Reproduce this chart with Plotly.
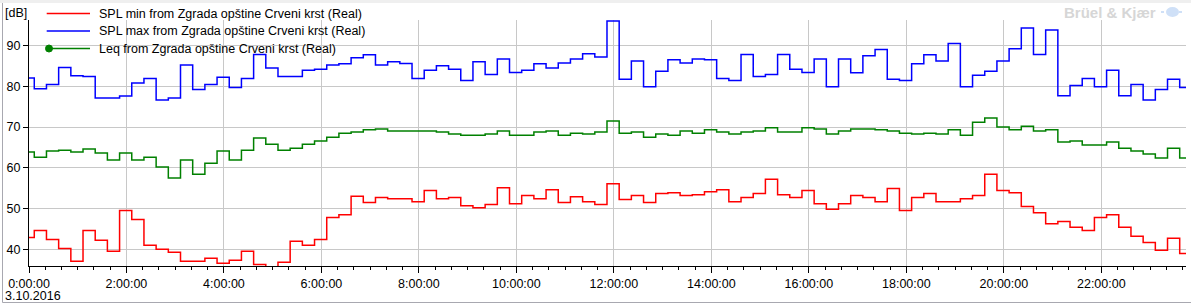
import pandas as pd
import plotly.graph_objects as go

# ---------------- data (15-minute intervals) ----------------
interval_start = "2016-10-02 23:51:30"
n_intervals = 96

spl_min = [42.9, 44.6, 42.4, 40.2, 37.1, 44.6, 42.2, 39.5, 49.5, 47.3, 41.0, 40.0,
           39.3, 37.1, 37.1, 37.8, 36.6, 37.3, 39.5, 36.3, 35.0, 36.8, 42.0, 41.0,
           42.4, 47.8, 48.5, 53.0, 51.5, 52.7, 52.4, 52.4, 51.7, 54.4, 52.4, 52.7,
           50.7, 50.2, 51.0, 55.1, 51.2, 53.2, 52.4, 54.6, 51.5, 52.9, 51.7, 51.0,
           56.1, 52.2, 53.2, 51.5, 53.7, 53.9, 53.2, 53.4, 54.1, 54.6, 51.7, 52.7,
           53.7, 57.2, 53.4, 52.7, 54.4, 51.2, 49.8, 51.2, 53.2, 52.7, 51.7, 54.9,
           49.5, 52.7, 53.7, 51.7, 51.7, 52.4, 53.2, 58.4, 54.4, 53.9, 50.5, 49.0,
           46.3, 46.8, 45.4, 44.6, 47.8, 48.5, 45.4, 43.2, 41.7, 39.8, 42.7, 39.0]

spl_max = [82.0, 79.4, 80.4, 84.6, 82.6, 82.4, 77.1, 77.1, 77.6, 80.8, 81.9, 76.6,
           77.1, 85.2, 79.2, 80.4, 82.2, 79.7, 81.9, 87.8, 84.5, 82.4, 82.4, 83.9,
           84.2, 85.2, 85.5, 87.0, 87.7, 85.2, 86.0, 85.6, 81.9, 83.9, 85.0, 84.2,
           81.4, 86.0, 82.9, 86.7, 83.4, 83.9, 85.5, 84.5, 85.7, 86.7, 88.0, 87.2,
           96.0, 81.7, 86.2, 79.9, 83.7, 86.5, 85.7, 86.7, 86.5, 81.9, 81.4, 87.8,
           82.4, 82.9, 87.8, 84.2, 83.4, 86.7, 79.9, 86.7, 83.3, 87.5, 89.0, 81.7,
           81.4, 85.5, 87.7, 86.2, 90.5, 79.9, 82.7, 83.7, 86.2, 89.2, 94.3, 87.8,
           93.8, 77.7, 80.2, 81.9, 79.9, 83.9, 77.7, 80.4, 76.6, 79.2, 81.7, 79.7]

leq = [63.9, 62.6, 64.1, 64.3, 63.9, 64.6, 63.6, 61.9, 63.6, 61.9, 62.6, 60.2,
       57.5, 61.9, 58.4, 61.1, 64.1, 61.9, 64.3, 67.3, 65.8, 64.3, 64.8, 65.8,
       66.6, 67.5, 68.5, 68.8, 69.3, 69.5, 69.0, 69.0, 69.0, 69.0, 68.8, 68.3,
       68.0, 68.0, 68.3, 69.0, 68.0, 68.0, 68.8, 69.0, 68.0, 68.5, 68.3, 68.8,
       71.5, 68.5, 68.8, 67.5, 68.3, 68.0, 69.0, 68.5, 69.3, 68.8, 68.3, 68.8,
       69.0, 69.8, 68.8, 68.8, 69.8, 69.5, 68.3, 69.0, 69.5, 69.5, 69.3, 69.0,
       68.5, 68.3, 68.5, 68.3, 69.3, 68.0, 71.2, 72.2, 70.0, 69.3, 70.2, 69.0,
       69.3, 66.3, 66.6, 65.6, 65.6, 66.3, 64.8, 64.1, 63.4, 62.4, 64.8, 62.4]

names = ["SPL min from Zgrada opštine Crveni krst (Real)",
         "SPL max from Zgrada opštine Crveni krst (Real)",
         "Leq from Zgrada opštine Crveni krst (Real)"]
colors = ["#ff0000", "#0000ff", "#008000"]

y_ticks = [40, 50, 60, 70, 80, 90]
x_range = ["2016-10-03 00:00:00", "2016-10-03 23:44:15"]
date_label = "3.10.2016"

# interval start times + end of last interval (for step drawing)
times = list(pd.date_range(interval_start, periods=n_intervals + 1, freq="15min"))

# ---------------- layout geometry ----------------
W, H = 1191, 304
L, R, T, B = 29, 5, 20, 38
PW, PH = W - L - R, H - T - B


def px(x):
    return (x - L) / PW


def py(y):
    return (H - B - y) / PH


FONT = "Liberation Sans, Arial, sans-serif"

fig = go.Figure()
for name, vals, col in zip(names, [spl_min, spl_max, leq], colors):
    fig.add_trace(go.Scatter(
        x=times, y=list(vals) + [vals[-1]], name=name, mode="lines",
        line=dict(color=col, width=1.5, shape="hv"), showlegend=False,
        hoverinfo="x+y+name"))

shapes = []
annotations = []

# white legend backdrop (above grid, below traces)
shapes.append(dict(type="rect", xref="x", yref="paper",
                   x0="2016-10-03 00:16:00", x1="2016-10-03 07:24:00",
                   y0=py(61), y1=1.0, fillcolor="white", line=dict(width=0),
                   layer="between"))

# manual legend
rows_y = [13.5, 31, 48.5]
for i, (name, col) in enumerate(zip(names, colors)):
    yy = py(rows_y[i])
    shapes.append(dict(type="line", xref="paper", yref="paper",
                       x0=px(46.7), x1=px(90), y0=yy, y1=yy,
                       line=dict(color=col, width=1.5)))
    annotations.append(dict(xref="paper", yref="paper", x=px(97), y=yy,
                            text=name, showarrow=False, xanchor="left",
                            yanchor="middle",
                            font=dict(family=FONT, size=12.5, color="#000000")))
# Leq marker
shapes.append(dict(type="circle", xref="paper", yref="paper",
                   x0=px(45.5), x1=px(52.5), y0=py(52), y1=py(45),
                   fillcolor="#008000", line=dict(color="#008000", width=1)))

# top band / frame
shapes.append(dict(type="rect", xref="paper", yref="paper",
                   x0=px(0), x1=px(W), y0=py(3), y1=py(0),
                   fillcolor="#efefef", line=dict(width=0), layer="below"))
shapes.append(dict(type="line", xref="paper", yref="paper",
                   x0=px(2.5), x1=px(2.5), y0=py(3), y1=py(302.5),
                   line=dict(color="#a8a8b0", width=1)))
shapes.append(dict(type="line", xref="paper", yref="paper",
                   x0=px(2.5), x1=px(W), y0=py(302.5), y1=py(302.5),
                   line=dict(color="#a8a8b0", width=1)))

# watermark
annotations.append(dict(xref="paper", yref="paper", x=px(1158), y=py(12),
                        text="<b>Brüel &amp; Kjær</b>", showarrow=False,
                        xanchor="right", yanchor="middle",
                        font=dict(family=FONT, size=15, color="#d6d6d6")))
shapes.append(dict(type="line", xref="paper", yref="paper",
                   x0=px(1161), x1=px(1184), y0=py(12), y1=py(12),
                   line=dict(color="#cfe0f7", width=2, dash="dot")))
shapes.append(dict(type="circle", xref="paper", yref="paper",
                   x0=px(1166), x1=px(1179), y0=py(17), y1=py(7),
                   fillcolor="#cfe0f7", line=dict(width=0)))

# y unit and date label
annotations.append(dict(xref="paper", yref="paper", x=px(3), y=py(13),
                        text="[dB]", showarrow=False, xanchor="left",
                        yanchor="middle",
                        font=dict(family=FONT, size=12.5, color="#000000")))
annotations.append(dict(xref="paper", yref="paper", x=px(3), y=py(295.5),
                        text=date_label, showarrow=False, xanchor="left",
                        yanchor="middle",
                        font=dict(family=FONT, size=12.5, color="#000000")))

fig.update_layout(
    width=W, height=H,
    margin=dict(l=L, r=R, t=T, b=B, pad=0),
    paper_bgcolor="white", plot_bgcolor="white",
    font=dict(family=FONT, size=12, color="#000000"),
    shapes=shapes, annotations=annotations,
    showlegend=False,
    xaxis=dict(
        type="date", range=x_range,
        tick0="2016-10-03 00:00:00", dtick=7200000,
        tickformat="%-H:%M:%S",
        ticks="outside", ticklen=6, tickwidth=1, tickcolor="#000000",
        showgrid=True, gridcolor="#c8c8c8", gridwidth=1,
        showline=True, linecolor="#000000", linewidth=1,
        zeroline=False,
        tickfont=dict(family=FONT, size=12.5, color="#000000"),
        minor=dict(dtick=1200000, tick0="2016-10-03 00:00:00",
                   ticks="outside", ticklen=3, tickcolor="#000000",
                   showgrid=False),
    ),
    yaxis=dict(
        range=[35.91, 96.25],
        tickvals=y_ticks,
        ticks="outside", ticklen=5, tickwidth=1, tickcolor="#000000",
        showgrid=True, gridcolor="#c8c8c8", gridwidth=1,
        showline=True, linecolor="#000000", linewidth=1,
        zeroline=False,
        tickfont=dict(family=FONT, size=12.5, color="#000000"),
    ),
)

fig.write_html("out.html")
